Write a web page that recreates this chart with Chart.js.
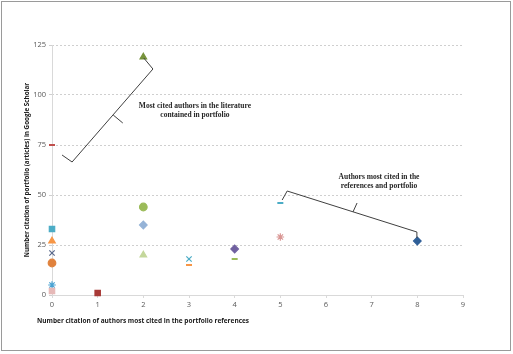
<!DOCTYPE html>
<html>
<head>
<meta charset="utf-8">
<script src="https://cdn.jsdelivr.net/npm/chart.js@4.4.1/dist/chart.umd.min.js"></script>
<style>
  html, body { margin: 0; padding: 0; background: #fff; }
  #wrap { width: 513px; height: 354px; position: relative; }
</style>
</head>
<body>
<div id="wrap"><canvas id="c" width="513" height="354"></canvas></div>
<script>
// citations of each author: x = in portfolio references, y = in Google Scholar
const refCites   = [0, 0, 0, 0, 0, 0, 0, 1, 2, 2, 2, 2, 3, 3, 4, 4, 5, 5, 8];
const scholarCites = [75, 33, 27, 21, 16, 5, 2, 1, 119, 44, 35, 20, 18, 15, 23, 18, 46, 29, 27];
const xTicks = [0, 1, 2, 3, 4, 5, 6, 7, 8, 9];
const yTicks = [0, 25, 50, 75, 100, 125];

const xTitle = 'Number citation of authors most cited in the portfolio references';
const yTitle = 'Number citation of portfolio (articles) in Google Scholar';
const note1 = ['Most cited authors in the literature', 'contained in portfolio'];
const note2 = ['Authors most cited in the', 'references and portfolio'];

// marker look per author
const markers = ['line', 'rect', 'triangle', 'crossRot', 'circle', 'star', 'rect', 'rect',
                 'triangle', 'circle', 'rectRot', 'triangle', 'crossRot', 'line',
                 'rectRot', 'line', 'line', 'star', 'rectRot'];
const colours = ['#c0504d', '#4bacc6', '#f79646', '#5b6a8c', '#e0823d', '#4aa3d3', '#e6b9b8', '#a83a37',
                 '#77933c', '#9bbb59', '#95b3d7', '#c4d79b', '#4bacc6', '#f79646',
                 '#7060a0', '#9bbb59', '#4bacc6', '#d99694', '#2f5f98'];

// bracket call-outs in data units
const bracket1 = [[0.22, 70], [0.44, 66.5], [2.21, 113], [2.01, 118.5]];
const spur1 = [[1.34, 90], [1.55, 86]];
const bracket2 = [[5.04, 47.5], [5.15, 52], [7.99, 31.5], [7.99, 28.5]];
const spur2 = [[6.59, 41.5], [6.68, 46]];

const pts = refCites.map((x, i) => ({x: x, y: scholarCites[i]}));

const extras = {
  id: 'extras',
  beforeDraw(chart) {
    const ctx = chart.ctx;
    ctx.save();
    ctx.fillStyle = '#fff';
    ctx.fillRect(0, 0, chart.width, chart.height);
    ctx.strokeStyle = '#9a9a9a';
    ctx.lineWidth = 1;
    ctx.strokeRect(1.5, 1.5, 509, 349);
    ctx.restore();
  },
  beforeDatasetsDraw(chart) {
    // solid vertical axis line at x = 0
    const ctx = chart.ctx, a = chart.chartArea;
    ctx.save();
    ctx.strokeStyle = '#d9d9d9';
    ctx.lineWidth = 1;
    ctx.beginPath();
    ctx.moveTo(a.left + 0.5, a.top);
    ctx.lineTo(a.left + 0.5, a.bottom);
    ctx.stroke();
    ctx.restore();
  },
  afterDraw(chart) {
    const ctx = chart.ctx, xs = chart.scales.x, ys = chart.scales.y;
    const px = p => [xs.getPixelForValue(p[0]), ys.getPixelForValue(p[1])];
    ctx.save();
    ctx.strokeStyle = '#404040';
    ctx.lineWidth = 1;
    [bracket1, spur1, bracket2, spur2].forEach(path => {
      ctx.beginPath();
      path.forEach((p, k) => {
        const q = px(p);
        if (k === 0) ctx.moveTo(q[0], q[1]); else ctx.lineTo(q[0], q[1]);
      });
      ctx.stroke();
    });
    ctx.fillStyle = '#262626';
    ctx.font = 'bold 7.5px "Liberation Serif"';
    ctx.textAlign = 'center';
    ctx.textBaseline = 'middle';
    let a = px([3.13, 94.5]);
    ctx.fillText(note1[0], a[0], a[1]);
    ctx.fillText(note1[1], a[0], a[1] + 9);
    a = px([7.16, 59]);
    ctx.fillText(note2[0], a[0], a[1]);
    ctx.fillText(note2[1], a[0], a[1] + 9);

    // axis titles
    ctx.fillStyle = '#1a1a1a';
    ctx.font = 'bold 6.5px "Open Sans"';
    ctx.textAlign = 'left';
    ctx.fillText(xTitle, 37, 321);
    ctx.translate(27, 170);
    ctx.rotate(-Math.PI / 2);
    ctx.textAlign = 'center';
    ctx.font = 'bold 6.3px "Open Sans"';
    ctx.fillText(yTitle, 0, 0);
    ctx.restore();
  }
};

new Chart(document.getElementById('c').getContext('2d'), {
  type: 'scatter',
  data: {
    datasets: [{
      data: pts,
      clip: false,
      pointStyle: markers,
      backgroundColor: colours,
      borderColor: colours,
      borderWidth: markers.map(m => (m === 'line' ? 2 : 1.2)),
      pointRadius: markers.map(m => (m === 'line' ? 3 : 3.8))
    }]
  },
  options: {
    responsive: false,
    animation: false,
    layout: { padding: { left: 22, right: 50, top: 45, bottom: 44 } },
    plugins: { legend: { display: false }, tooltip: { enabled: false } },
    scales: {
      x: {
        type: 'linear', min: 0, max: 9,
        afterBuildTicks: s => { s.ticks = xTicks.map(v => ({value: v})); },
        afterFit: s => { s.height = 15; },
        grid: { display: true, drawOnChartArea: false, drawTicks: true, tickLength: 3, color: '#d9d9d9' },
        border: { color: '#d9d9d9' },
        ticks: { color: '#595959', font: { size: 7.5, family: 'Open Sans' }, padding: 2, maxRotation: 0 }
      },
      y: {
        min: 0, max: 125,
        afterBuildTicks: s => { s.ticks = yTicks.map(v => ({value: v})); },
        afterFit: s => { s.width = 30; },
        grid: { color: '#cfcfcf', tickLength: 3, drawTicks: true },
        border: { display: false, dash: [2, 2] },
        ticks: { color: '#595959', font: { size: 7.5, family: 'Open Sans' }, padding: 3 }
      }
    }
  },
  plugins: [extras]
});
</script>
</body>
</html>
